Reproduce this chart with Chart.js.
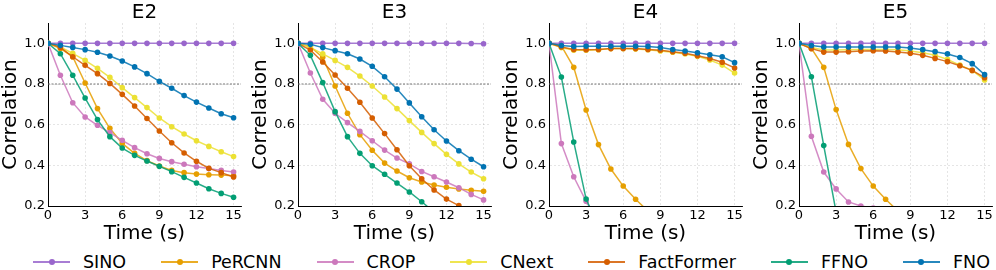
<!DOCTYPE html>
<html>
<head>
<meta charset="utf-8">
<script src="https://cdn.jsdelivr.net/npm/chart.js@4/dist/chart.umd.min.js"></script>
<style>
  body { margin: 0; background: #fff; width: 996px; height: 270px; position: relative; overflow: hidden; font-family: "DejaVu Sans", sans-serif; }
  .panel { position: absolute; top: 0; width: 245px; height: 250px; }
  #legend { position: absolute; left: 33px; top: 250px; display: flex; align-items: center; gap: 35px; font-size: 17.5px; color: #000; }
  .item { display: flex; align-items: center; gap: 13px; }
  .swatch { position: relative; width: 37px; height: 24px; }
  .swatch .ln { position: absolute; left: 0; right: 0; top: 11px; height: 1.5px; }
  .swatch .dot { position: absolute; left: 15.5px; top: 9px; width: 6px; height: 6px; border-radius: 50%; }
</style>
</head>
<body>
<div class="panel" style="left:0px"><canvas id="chartE2"></canvas></div>
<div class="panel" style="left:250px"><canvas id="chartE3"></canvas></div>
<div class="panel" style="left:501px"><canvas id="chartE4"></canvas></div>
<div class="panel" style="left:751px"><canvas id="chartE5"></canvas></div>
<div id="legend"></div>

<script>
// time axis and ticks
const TIME = [0, 1, 2, 3, 4, 5, 6, 7, 8, 9, 10, 11, 12, 13, 14, 15];
const X_TICKS = [0, 3, 6, 9, 12, 15];
const Y_TICKS = [0.2, 0.4, 0.6, 0.8, 1.0];
const MODELS = ['SINO', 'PeRCNN', 'CROP', 'CNext', 'FactFormer', 'FFNO', 'FNO'];

// E2
const e2Sino = [1, 1, 1, 1, 1, 1, 1, 1, 1, 1, 1, 1, 1, 1, 1, 1];
const e2Percnn = [1.0, 0.975, 0.934, 0.805, 0.679, 0.582, 0.508, 0.459, 0.423, 0.397, 0.375, 0.364, 0.357, 0.354, 0.352, 0.349];
const e2Crop = [1.0, 0.843, 0.708, 0.638, 0.597, 0.561, 0.523, 0.487, 0.457, 0.434, 0.418, 0.405, 0.393, 0.384, 0.375, 0.367];
const e2Cnext = [1.0, 0.982, 0.951, 0.916, 0.877, 0.833, 0.782, 0.733, 0.684, 0.633, 0.59, 0.554, 0.521, 0.493, 0.467, 0.443];
const e2Fact = [1.0, 0.98, 0.934, 0.892, 0.851, 0.803, 0.749, 0.692, 0.63, 0.569, 0.511, 0.461, 0.42, 0.385, 0.364, 0.343];
const e2Ffno = [1.0, 0.949, 0.843, 0.731, 0.625, 0.541, 0.485, 0.449, 0.421, 0.395, 0.369, 0.341, 0.313, 0.285, 0.262, 0.243];
const e2Fno = [1.0, 0.99, 0.98, 0.969, 0.956, 0.938, 0.913, 0.884, 0.851, 0.813, 0.779, 0.743, 0.711, 0.682, 0.654, 0.634];

// E3
const e3Sino = [1, 1, 1, 1, 1, 1, 1, 1, 1, 1, 1, 1, 1, 1, 0.999, 0.998];
const e3Percnn = [1.0, 0.984, 0.931, 0.79, 0.656, 0.551, 0.474, 0.411, 0.372, 0.339, 0.318, 0.303, 0.292, 0.284, 0.277, 0.272];
const e3Crop = [1.0, 0.854, 0.725, 0.656, 0.61, 0.567, 0.521, 0.475, 0.436, 0.407, 0.37, 0.344, 0.318, 0.29, 0.257, 0.23];
const e3Cnext = [1.0, 0.98, 0.948, 0.916, 0.882, 0.839, 0.79, 0.736, 0.679, 0.62, 0.562, 0.507, 0.454, 0.407, 0.367, 0.334];
const e3Fact = [1.0, 0.967, 0.908, 0.844, 0.779, 0.71, 0.633, 0.556, 0.477, 0.398, 0.334, 0.279, 0.234, 0.202, 0.175, 0.15];
const e3Ffno = [1.0, 0.941, 0.807, 0.664, 0.541, 0.459, 0.398, 0.356, 0.313, 0.269, 0.221, 0.17, 0.13];
const e3Fno = [1.0, 0.995, 0.979, 0.964, 0.949, 0.923, 0.887, 0.836, 0.775, 0.707, 0.639, 0.575, 0.52, 0.472, 0.43, 0.393];

// E4
const e4Sino = [1, 1, 1, 1, 1, 1, 1, 1, 1, 1, 1, 1, 1, 1, 1, 1];
const e4Percnn = [1.0, 0.987, 0.882, 0.672, 0.502, 0.382, 0.298, 0.233, 0.175, 0.13];
const e4Crop = [1.0, 0.507, 0.344, 0.223, 0.12];
const e4Cnext = [1.0, 0.979, 0.966, 0.966, 0.969, 0.974, 0.974, 0.972, 0.969, 0.962, 0.956, 0.948, 0.936, 0.918, 0.893, 0.854];
const e4Fact = [1.0, 0.982, 0.97, 0.969, 0.97, 0.974, 0.975, 0.974, 0.97, 0.966, 0.959, 0.951, 0.939, 0.925, 0.907, 0.879];
const e4Ffno = [1.0, 0.834, 0.515, 0.234, 0.1];
const e4Fno = [1.0, 0.989, 0.984, 0.986, 0.986, 0.986, 0.986, 0.986, 0.985, 0.979, 0.97, 0.962, 0.954, 0.944, 0.934, 0.905];

// E5
const e5Sino = [1, 1, 1, 1, 1, 1, 1, 1, 1, 1, 1, 1, 1, 1, 1, 1];
const e5Percnn = [1.0, 0.975, 0.882, 0.674, 0.503, 0.384, 0.298, 0.233, 0.175, 0.13];
const e5Crop = [1.0, 0.543, 0.367, 0.284, 0.22, 0.2, 0.19, 0.18];
const e5Cnext = [1.0, 0.98, 0.967, 0.967, 0.969, 0.97, 0.97, 0.97, 0.969, 0.962, 0.954, 0.941, 0.921, 0.893, 0.867, 0.82];
const e5Fact = [1.0, 0.974, 0.957, 0.957, 0.959, 0.962, 0.964, 0.962, 0.957, 0.951, 0.941, 0.926, 0.91, 0.89, 0.867, 0.831];
const e5Ffno = [1.0, 0.836, 0.497, 0.17];
const e5Fno = [1.0, 0.989, 0.982, 0.982, 0.982, 0.982, 0.982, 0.982, 0.982, 0.977, 0.969, 0.959, 0.948, 0.93, 0.9, 0.846];

const COLORS = ['#9966cc', '#e69f00', '#cc78bc', '#ece133', '#d55e00', '#029e73', '#0173b2'];
const FONT = '"DejaVu Sans", sans-serif';

const panels = [
  { id: 'chartE2', title: 'E2', series: [e2Sino, e2Percnn, e2Crop, e2Cnext, e2Fact, e2Ffno, e2Fno] },
  { id: 'chartE3', title: 'E3', series: [e3Sino, e3Percnn, e3Crop, e3Cnext, e3Fact, e3Ffno, e3Fno] },
  { id: 'chartE4', title: 'E4', series: [e4Sino, e4Percnn, e4Crop, e4Cnext, e4Fact, e4Ffno, e4Fno] },
  { id: 'chartE5', title: 'E5', series: [e5Sino, e5Percnn, e5Crop, e5Cnext, e5Fact, e5Ffno, e5Fno] }
];

function hexA(hex, a) {
  const n = parseInt(hex.slice(1), 16);
  return `rgba(${(n >> 16) & 255},${(n >> 8) & 255},${n & 255},${a})`;
}

// panel title centred on the plot area + the 0.8 reference line
const panelExtras = {
  id: 'panelExtras',
  beforeDatasetsDraw(chart) {
    const { ctx, chartArea, scales } = chart;
    const y = scales.y.getPixelForValue(0.8);
    ctx.save();
    ctx.strokeStyle = '#666';
    ctx.lineWidth = 0.9;
    ctx.setLineDash([2, 1.5]);
    ctx.beginPath();
    ctx.moveTo(chartArea.left, y);
    ctx.lineTo(chartArea.right, y);
    ctx.stroke();
    ctx.restore();
  },
  afterDraw(chart) {
    const { ctx, chartArea } = chart;
    ctx.save();
    ctx.font = `20px ${FONT}`;
    ctx.fillStyle = '#000';
    ctx.textAlign = 'center';
    ctx.textBaseline = 'middle';
    ctx.fillText(chart.options.plugins.panelExtras.text, (chartArea.left + chartArea.right) / 2, 13);
    ctx.restore();
  }
};

function makeChart(panel) {
  const canvas = document.getElementById(panel.id);
  canvas.width = 245;
  canvas.height = 250;

  const datasets = panel.series.map((vals, i) => ({
    label: MODELS[i],
    data: vals.map((v, k) => ({ x: TIME[k], y: v })),
    borderColor: hexA(COLORS[i], 0.85),
    backgroundColor: COLORS[i],
    pointBackgroundColor: COLORS[i],
    pointBorderWidth: 0,
    pointRadius: 2.8,
    borderWidth: 1.5,
    tension: 0,
    order: MODELS.length - i
  }));

  return new Chart(canvas, {
    type: 'line',
    data: { datasets },
    options: {
      responsive: false,
      maintainAspectRatio: false,
      animation: false,
      events: [],
      layout: { padding: { top: 23, right: 3, left: 0, bottom: 0 } },
      plugins: {
        legend: { display: false },
        tooltip: { enabled: false },
        panelExtras: { text: panel.title }
      },
      scales: {
        x: {
          type: 'linear',
          min: 0,
          max: 15.6,
          afterFit: (s) => { s.height = 44; },
          afterBuildTicks: (s) => { s.ticks = X_TICKS.map(v => ({ value: v })); },
          grid: { color: 'rgba(0,0,0,0.13)', lineWidth: 0.8, drawTicks: false },
          border: { color: '#000', width: 1, dash: [2, 2] },
          ticks: { padding: 2, color: '#000', font: { family: FONT, size: 13 }, maxRotation: 0 },
          title: { display: true, text: 'Time (s)', color: '#000', font: { family: FONT, size: 20, lineHeight: 1.2 }, padding: { top: 0, bottom: 4 } }
        },
        y: {
          type: 'linear',
          min: 0.2,
          max: 1.1,
          afterFit: (s) => { s.width = 48; },
          afterBuildTicks: (s) => { s.ticks = Y_TICKS.map(v => ({ value: v })); },
          grid: { color: 'rgba(0,0,0,0.13)', lineWidth: 0.8, drawTicks: false },
          border: { color: '#000', width: 1, dash: [2, 2] },
          ticks: { padding: 3, color: '#000', font: { family: FONT, size: 13 }, callback: (v) => Number(v).toFixed(1) },
          title: { display: true, text: 'Correlation', color: '#000', font: { family: FONT, size: 20, lineHeight: 1.05 }, padding: { top: 0, bottom: 0 } }
        }
      }
    },
    plugins: [panelExtras]
  });
}

function buildLegend() {
  const legend = document.getElementById('legend');
  MODELS.forEach((name, i) => {
    const item = document.createElement('div');
    item.className = 'item';
    item.innerHTML = `<div class="swatch"><div class="ln" style="background:${hexA(COLORS[i], 0.85)}"></div>` +
      `<div class="dot" style="background:${COLORS[i]}"></div></div><span>${name}</span>`;
    legend.appendChild(item);
  });
}

panels.forEach(makeChart);
buildLegend();
</script>
</body>
</html>
